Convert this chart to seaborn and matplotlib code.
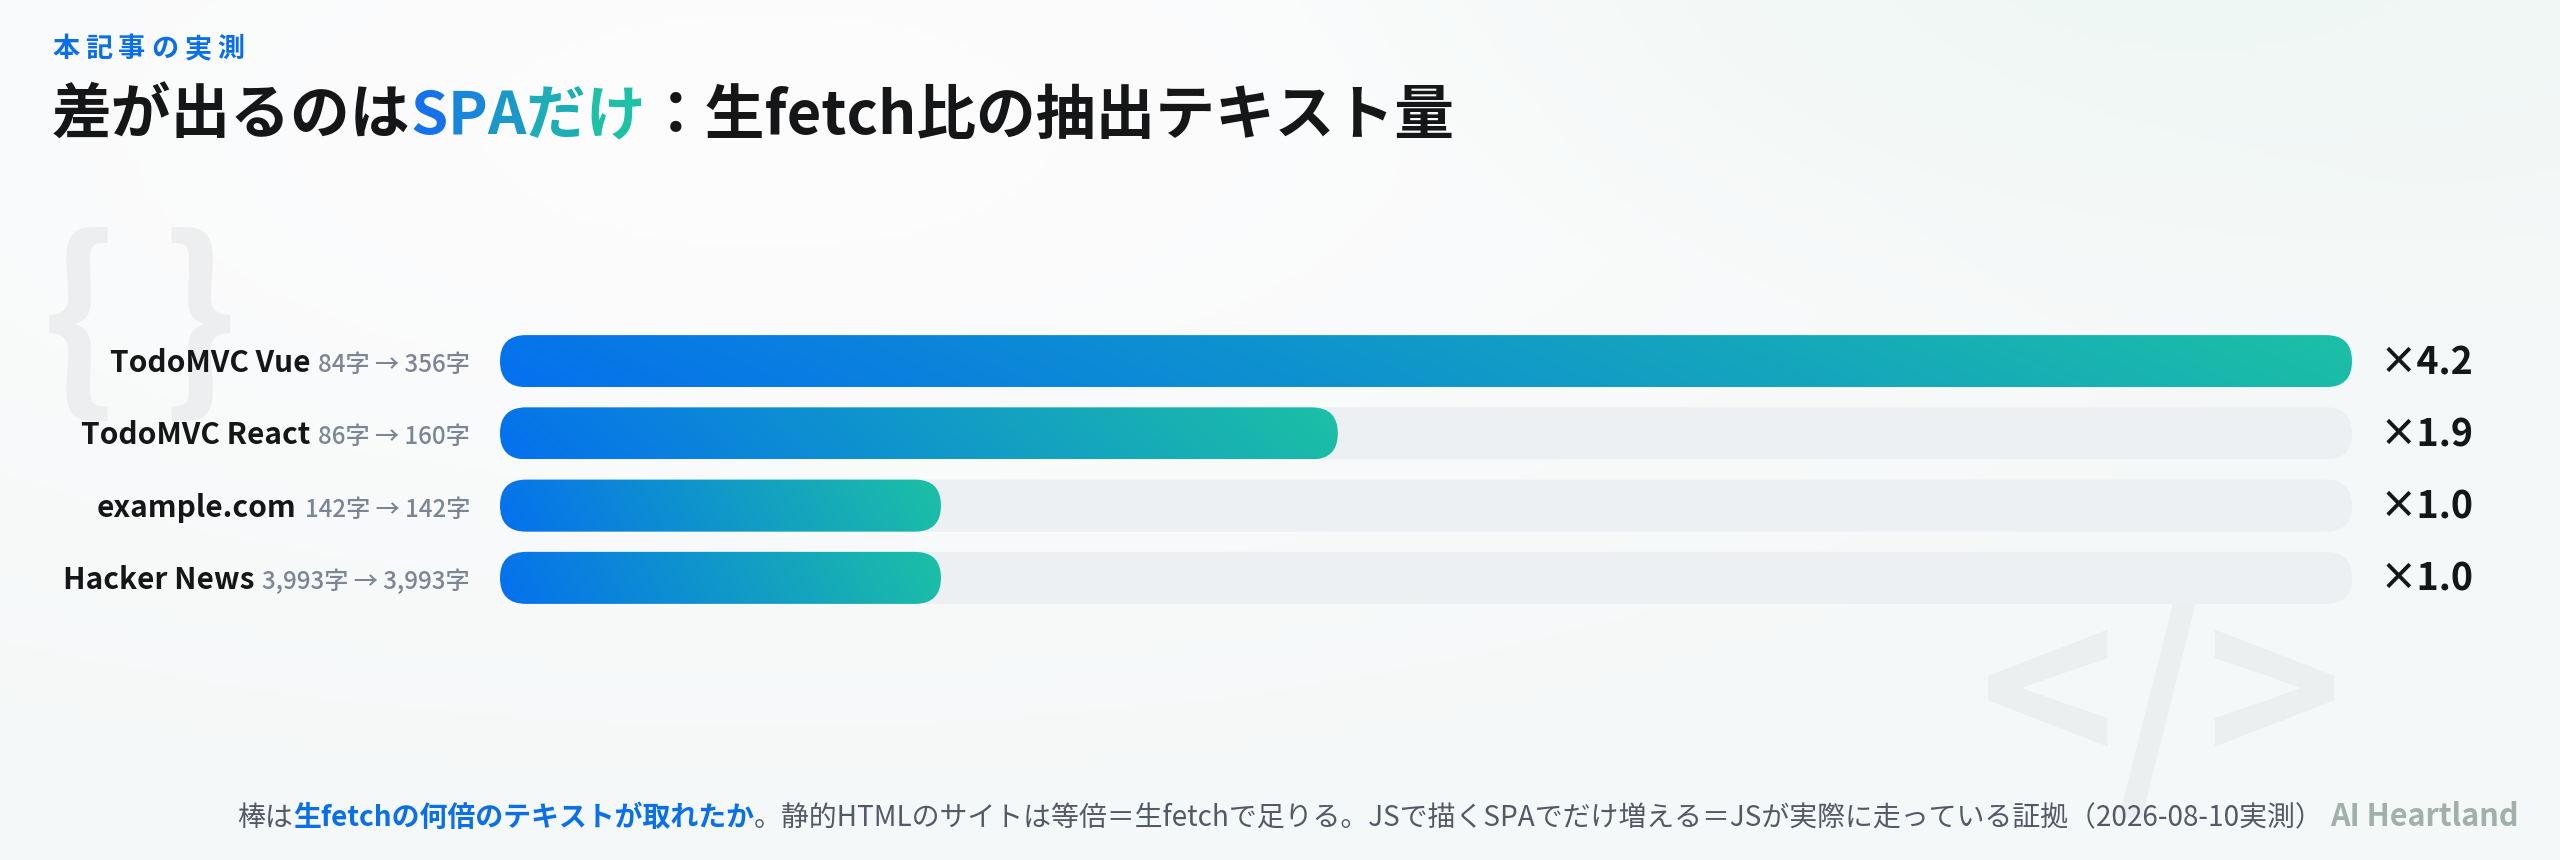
import numpy as np
import pandas as pd
import matplotlib
matplotlib.use("Agg")
import matplotlib.pyplot as plt
import seaborn as sns
from matplotlib.patches import FancyBboxPatch
from matplotlib.colors import to_rgb

# ---------------- data ----------------
sites = ["TodoMVC Vue", "TodoMVC React", "example.com", "Hacker News"]
chars_before = ["84字", "86字", "142字", "3,993字"]
chars_after = ["356字", "160字", "142字", "3,993字"]
ratios = [4.2, 1.9, 1.0, 1.0]

kicker = "本記事の実測"
title_runs = [("差が出るのは", "plain"), ("SPAだけ", "grad"), ("：生fetch比の抽出テキスト量", "plain")]
footer_runs = [
    ("棒は", "gray"),
    ("生fetchの何倍のテキストが取れたか", "blue"),
    ("。静的HTMLのサイトは等倍＝生fetchで足りる。JSで描くSPAでだけ増える＝JSが実際に走っている証拠（2026-08-10実測）", "gray"),
]
brand = "AI Heartland"

# ---------------- style ----------------
WPX, HPX, DPI = 2560, 860, 100
BLUE = "#0a6fe8"
C0, C1 = np.array(to_rgb("#0570ee")), np.array(to_rgb("#1cc0a5"))
TRACK = "#edf0f2"
INK = "#141618"
GRAY = "#7b8596"
FOOT = "#525a68"

sns.set_theme(style="white")
plt.rcParams['font.family'] = ['Noto Sans CJK JP', 'DejaVu Sans']

fig = plt.figure(figsize=(WPX / DPI, HPX / DPI), dpi=DPI)

# background
bg = fig.add_axes([0, 0, 1, 1], zorder=-10)
bg.axis("off")
ny, nx = 172, 512
yy, xx = np.mgrid[0:1:ny * 1j, 0:1:nx * 1j]
img = np.ones((ny, nx, 3)) * np.array(to_rgb("#f5f8f8"))
dw = np.sqrt(((xx - 0.30) / 0.75) ** 2 + ((yy - 0.15) / 0.9) ** 2)
ww = np.clip(1 - dw, 0, 1) ** 1.2 * 0.85
img = img * (1 - ww[..., None]) + np.array([1.0, 0.995, 1.0]) * ww[..., None]
dm = np.sqrt(((xx - 0.85) / 0.35) ** 2 + ((yy + 0.05) / 0.45) ** 2)
wm = np.clip(1 - dm, 0, 1) ** 1.0 * 0.9
img = img * (1 - wm[..., None]) + np.array(to_rgb("#edf7f3")) * wm[..., None]
bg.imshow(img, extent=[0, 1, 0, 1], aspect="auto", origin="upper")
bg.set_xlim(0, 1); bg.set_ylim(0, 1)

def fx(x):
    return x / WPX

def fy(y):
    return 1 - y / HPX

# decorations
fig.text(fx(140), fy(329), "{ }", fontsize=143, fontweight="bold", color="#eceeef",
         ha="center", va="center", zorder=-5)
fig.text(fx(2162), fy(708), "</>", fontsize=168, fontweight="bold", color="#eceff0",
         ha="center", va="center", zorder=-5)

# ---------------- bars ----------------
ax_l, ax_r, ax_t, ax_b = 500, 2352, 325, 614
ax = fig.add_axes([fx(ax_l), fy(ax_b), (ax_r - ax_l) / WPX, (ax_b - ax_t) / HPX])
ax.patch.set_alpha(0)
vmax = max(ratios)
df = pd.DataFrame({"site": sites, "ratio": ratios, "track": [vmax] * len(sites)})
BW = 0.72
sns.barplot(data=df, x="track", y="site", orient="y", color=TRACK, width=BW, ax=ax, saturation=1)
n_track = len(ax.patches)
sns.barplot(data=df, x="ratio", y="site", orient="y", color=C0, width=BW, ax=ax, saturation=1)
ax.set_xlim(0, vmax)
ax.set_ylim(len(sites) - 0.5, -0.5)
ax.axis("off")

px_per_x = (ax_r - ax_l) / vmax
px_per_y = (ax_b - ax_t) / len(sites)
aspect = px_per_x / px_per_y

rects = list(ax.patches)
for k, p in enumerate(rects):
    x0, y0, w, h = p.get_x(), p.get_y(), p.get_width(), p.get_height()
    p.set_visible(False)
    rs = (h / aspect) / 2
    fb = FancyBboxPatch((x0, y0), w, h, boxstyle=f"round,pad=0,rounding_size={rs}",
                        mutation_aspect=aspect, linewidth=0,
                        facecolor=TRACK if k < n_track else "none", zorder=2 if k < n_track else 3)
    ax.add_patch(fb)
    if k >= n_track:
        gx = np.linspace(0, 1, 400)[None, :]
        gy = np.linspace(0, 1, 40)[:, None]
        t = np.clip(gx * 0.94 + (1 - gy) * 0.06, 0, 1)
        gimg = C0[None, None, :] * (1 - t[..., None]) + C1[None, None, :] * t[..., None]
        im = ax.imshow(gimg, extent=(x0, x0 + w, y0 + h, y0), origin="upper",
                       aspect="auto", zorder=4, interpolation="bilinear")
        im.set_clip_path(fb)
ax.set_xlim(0, vmax)
ax.set_ylim(len(sites) - 0.5, -0.5)

fig.canvas.draw()
R = fig.canvas.get_renderer()

# left labels + right values
for i, s in enumerate(sites):
    yc = ax_t + px_per_y * (i + 0.5)
    base = yc + 11
    sub = fig.text(fx(470), fy(base), f"{chars_before[i]} → {chars_after[i]}", fontsize=17.4,
                   fontweight="medium", color=GRAY, ha="right", va="baseline")
    e = sub.get_window_extent(renderer=R)
    fig.text(fx(e.x0 - 8), fy(base), s, fontsize=21.5, fontweight="bold", color=INK,
             ha="right", va="baseline")
    fig.text(fx(2380), fy(yc + 13), f"×{ratios[i]:.1f}", fontsize=27, fontweight="bold",
             color=INK, ha="left", va="baseline")

# kicker (letter-spaced)
x = 52
for ch in kicker:
    tt = fig.text(fx(x), fy(57), ch, fontsize=19.5, fontweight="bold", color=BLUE,
                  ha="left", va="baseline")
    x = tt.get_window_extent(renderer=R).x1 + 6

def grad_col(t):
    c = np.array(to_rgb("#1672ea")) * (1 - t) + np.array(to_rgb("#1ec0a6")) * t
    return tuple(c)

# title
x = 52
TBASE = 134
for txt, kind in title_runs:
    if kind == "grad":
        nchar = len(txt)
        for j, ch in enumerate(txt):
            tt = fig.text(fx(x), fy(TBASE), ch, fontsize=43, fontweight="bold",
                          color=grad_col(j / (nchar - 1)), ha="left", va="baseline")
            x = tt.get_window_extent(renderer=R).x1
    else:
        tt = fig.text(fx(x), fy(TBASE), txt, fontsize=43, fontweight="bold", color=INK,
                      ha="left", va="baseline")
        x = tt.get_window_extent(renderer=R).x1

# footer
x = 237
FBASE = 826
for txt, kind in footer_runs:
    col = BLUE if kind == "blue" else FOOT
    wgt = "bold" if kind == "blue" else "normal"
    tt = fig.text(fx(x), fy(FBASE), txt, fontsize=20.1, fontweight=wgt, color=col,
                  ha="left", va="baseline")
    x = tt.get_window_extent(renderer=R).x1
fig.text(fx(x + 7), fy(FBASE), brand, fontsize=22, fontweight="bold", color="#a2b0aa",
         ha="left", va="baseline")

fig.savefig("out.png", dpi=DPI)
